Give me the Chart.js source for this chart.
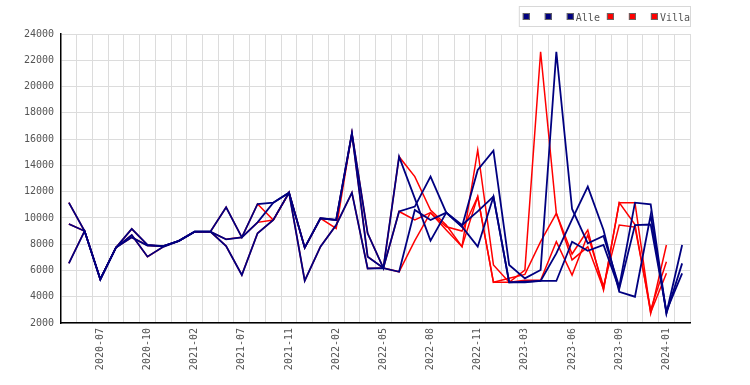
<!DOCTYPE html>
<html>
<head>
<meta charset="utf-8">
<script src="https://cdn.jsdelivr.net/npm/chart.js@4/dist/chart.umd.min.js"></script>
<style>
  html, body { margin: 0; padding: 0; background: #fff; }
  #wrap { width: 750px; height: 385px; }
</style>
</head>
<body>
<div id="wrap"><canvas id="chart" width="750" height="385"></canvas></div>
<script>
// ── Data ──
var months = [
  '2020-05','2020-06','2020-07','2020-08','2020-09','2020-10','2020-11','2020-12',
  '2021-02','2021-03','2021-05','2021-07','2021-08','2021-10','2021-11','2021-12',
  '2022-01','2022-02','2022-03','2022-04','2022-05','2022-06','2022-07','2022-08',
  '2022-09','2022-10','2022-11','2022-12','2023-02','2023-03','2023-04','2023-05',
  '2023-06','2023-07','2023-08','2023-09','2023-10','2023-12','2024-01','2024-02'
];

var yTicks = [2000, 4000, 6000, 8000, 10000, 12000, 14000, 16000, 18000, 20000, 22000, 24000];

// Alle (three navy lines)
var alle1 = [11160, 9000, 5330, 7750, 9160, 7940, 7850, 8250, 8950, 8950,
             10810, 8520, 11060, 11160, 11920, 7730, 9970, 9840, 16440, 8830,
             6180, 14660, 11490, 8270, 10400, 9330, 13650, 15120, 6420, 5400,
             6030, 22650, 10680, 8070, 8620, 4760, 11160, 11030, 2740, 7940];
var alle2 = [9540, 9000, 5330, 7750, 8700, 7050, 7800, 8250, 8950, 8950,
             8370, 8520, 9660, 11160, 11920, 7730, 9970, 9840, 16440, 7050,
             6180, 10490, 10860, 13140, 10400, 9330, 7810, 11620, 5100, 5100,
             5200, 7300, 9880, 12380, 9080, 4380, 4000, 10220, 2740, 6540];
var alle3 = [6545, 9000, 5330, 7750, 8520, 7900, 7850, 8250, 8950, 8950,
             7860, 5650, 8830, 9840, 11920, 5220, 7810, 9460, 11920, 6150,
             6180, 5900, 10600, 9840, 10400, 9460, 10500, 11620, 5100, 5150,
             5200, 5200, 8190, 7500, 7940, 4600, 9460, 9500, 2900, 5780];

// Villa (three red lines, one month shorter)
var villa1 = [11160, 9000, 5330, 7750, 9160, 7940, 7850, 8250, 8950, 8950,
              10810, 8520, 11060, 9840, 11920, 7730, 9970, 9200, 16440, 8830,
              6180, 14660, 13140, 10600, 9460, 7810, 15170, 6420, 5100, 6030,
              22650, 10350, 7250, 9080, 4510, 11160, 11160, 2740, 7940, null];
var villa2 = [9540, 9000, 5330, 7750, 8700, 7050, 7800, 8250, 8950, 8950,
              8370, 8520, 9660, 9840, 11920, 7730, 9970, 9840, 16440, 7050,
              6180, 10490, 9840, 10400, 9330, 9000, 11620, 5100, 5100, 5260,
              5260, 8190, 5650, 8700, 4800, 9460, 9300, 3000, 6670, null];
var villa3 = [6545, 9000, 5330, 7750, 8520, 7900, 7850, 8250, 8950, 8950,
              7860, 5650, 8830, 9840, 11920, 5220, 7810, 9460, 11920, 6150,
              6180, 5900, 8270, 10400, 9080, 7810, 11620, 5100, 5400, 5700,
              8190, 10350, 6800, 7800, 4600, 11160, 9500, 2800, 5780, null];

var NAVY = '#000080';
var RED = '#ff0000';
var TEXT = '#555555';
var GRID = '#dcdcdc';
var FONT = { family: '"DejaVu Sans Mono", monospace', size: 10 };

function line(label, data, color, width) {
  return { label: label, data: data, borderColor: color, backgroundColor: color,
           borderWidth: width, pointRadius: 0, tension: 0, fill: false };
}

// ── Framed legend in the top right corner ──
var legendBox = {
  id: 'legendBox',
  afterDraw: function(chart) {
    var ctx = chart.ctx;
    var ds = chart.data.datasets;
    ctx.save();
    ctx.font = FONT.size + 'px ' + FONT.family;
    var w = 0;
    ds.forEach(function(d) {
      w += d.label ? 9 + ctx.measureText(d.label).width + 7 : 22;
    });
    w -= 7;
    var right = chart.chartArea.right;
    var x = right - w;
    ctx.strokeStyle = '#d8d8d8';
    ctx.lineWidth = 1;
    ctx.strokeRect(x - 3.5, 6.5, w + 4, 20);
    ds.forEach(function(d) {
      ctx.fillStyle = d.borderColor;
      ctx.fillRect(x, 13, 7, 7);
      ctx.strokeStyle = '#666';
      ctx.strokeRect(x + 0.5, 13.5, 6, 6);
      if (d.label) {
        ctx.fillStyle = TEXT;
        ctx.textBaseline = 'alphabetic';
        ctx.fillText(d.label, x + 9, 20.5);
        x += 9 + ctx.measureText(d.label).width + 7;
      } else {
        x += 22;
      }
    });
    ctx.restore();
  }
};

var ctx = document.getElementById('chart').getContext('2d');
new Chart(ctx, {
  type: 'line',
  data: {
    labels: months,
    datasets: [
      line('', alle1, NAVY, 1.8),
      line('', alle2, NAVY, 1.8),
      line('Alle', alle3, NAVY, 1.8),
      line('', villa1, RED, 1.5),
      line('', villa2, RED, 1.5),
      line('Villa', villa3, RED, 1.5)
    ]
  },
  options: {
    responsive: false,
    animation: false,
    layout: { padding: { top: 34, right: 60, left: 0, bottom: 0 } },
    plugins: { legend: { display: false }, tooltip: { enabled: false } },
    scales: {
      x: {
        offset: true,
        grid: { offset: true, color: GRID, drawTicks: false },
        border: { color: '#000', width: 1.5 },
        ticks: {
          autoSkip: false, maxRotation: 90, minRotation: 90, padding: 5,
          color: TEXT, font: FONT,
          callback: function(v, i) { return i % 3 === 2 ? months[i] : ''; }
        },
        afterFit: function(s) { s.height = 62; }
      },
      y: {
        min: yTicks[0],
        max: yTicks[yTicks.length - 1],
        grid: { color: GRID, drawTicks: false },
        border: { color: '#000', width: 1.5 },
        ticks: {
          stepSize: 2000, padding: 7, color: TEXT, font: FONT,
          callback: function(v) { return String(v); }
        },
        afterFit: function(s) { s.width = 61; }
      }
    }
  },
  plugins: [legendBox]
});
</script>
</body>
</html>
